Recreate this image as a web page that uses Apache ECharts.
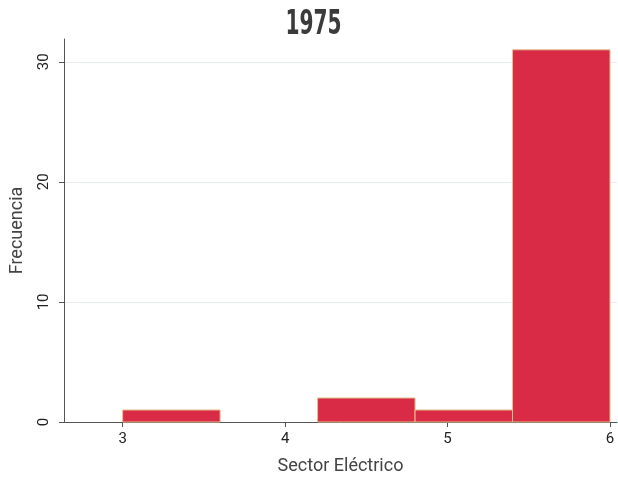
<!DOCTYPE html>
<html><head><meta charset="utf-8">
<script src="https://cdn.jsdelivr.net/npm/echarts@6/dist/echarts.min.js"></script>
<style>html,body{margin:0;padding:0;background:#fff}#c{width:618px;height:478px}</style>
</head><body><div id="c"></div>
<script>
const titleText = "1975";
const xName = "Sector Eléctrico";
const yName = "Frecuencia";
const binStarts = [3, 3.6, 4.2, 4.8, 5.4];
const binWidth = 0.6;
const counts = [1, 0, 2, 1, 31];
const xTicks = [3, 4, 5, 6];
const yTicks = [0, 10, 20, 30];

const data = binStarts.map((s, i) => [s, s + binWidth, counts[i]]);
const chart = echarts.init(document.getElementById('c'));
chart.setOption({
  backgroundColor: '#fff',
  animation: false,
  graphic: [{type: 'text', x: 313.5, y: 25, scaleX: 0.66, scaleY: 1,
    style: {text: titleText, fontFamily: 'DejaVu Sans Condensed', fontWeight: 'bold', fontSize: 34,
      fill: '#3b3b3b', align: 'center', verticalAlign: 'middle'}}],
  grid: {left: 64, right: 1, top: 39, bottom: 56, containLabel: false, outerBoundsMode: 'none'},
  xAxis: {type: 'value', min: 2.639, max: 6.043, name: xName, nameLocation: 'middle', nameGap: 35,
    nameTextStyle: {fontFamily: 'Roboto', fontSize: 18, color: '#444'},
    axisLine: {show: true, onZero: false, lineStyle: {color: '#555', width: 1}},
    axisTick: {show: true, length: 5, lineStyle: {color: '#555'}, customValues: xTicks},
    axisLabel: {fontFamily: 'Roboto', fontSize: 15, color: '#222', margin: 10, customValues: xTicks},
    splitLine: {show: false}},
  yAxis: {type: 'value', min: 0, max: 31.9, name: yName, nameLocation: 'middle', nameGap: 38,
    nameTextStyle: {fontFamily: 'Roboto', fontSize: 18, color: '#444'},
    axisLine: {show: true, lineStyle: {color: '#555', width: 1}},
    axisTick: {show: true, length: 5, lineStyle: {color: '#555'}, customValues: yTicks},
    axisLabel: {fontFamily: 'Roboto', fontSize: 15, color: '#222', rotate: 90, margin: 12, customValues: yTicks},
    splitLine: {show: true, lineStyle: {color: '#e6ecee', width: 1}}},
  series: [{
    type: 'custom',
    data: data,
    encode: {x: [0, 1], y: 2},
    renderItem: function (params, api) {
      if (api.value(2) <= 0) return null;
      const a = api.coord([api.value(0), api.value(2)]);
      const b = api.coord([api.value(1), 0]);
      return {type: 'rect', shape: {x: a[0], y: a[1], width: b[0] - a[0], height: b[1] - a[1]},
        style: {fill: '#d92b45', stroke: '#e3c08f', lineWidth: 1}};
    }
  }]
});
</script></body></html>
